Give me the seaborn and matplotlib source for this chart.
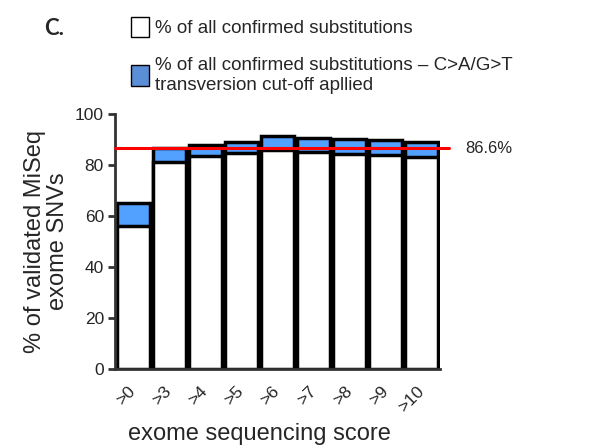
import pandas as pd
import matplotlib
matplotlib.use("Agg")
import matplotlib.pyplot as plt
from matplotlib.patches import Patch
import seaborn as sns

# valeurs
scores = [">0", ">3", ">4", ">5", ">6", ">7", ">8", ">9", ">10"]
all_confirmed = [56, 81.3, 83.5, 84.6, 86.0, 85.2, 84.3, 83.9, 83.0]
with_cutoff = [65.1, 86.7, 87.8, 88.9, 91.5, 90.5, 90.2, 89.8, 89.1]
threshold = 86.6

blue = "#52a0ff"

sns.set_style("ticks")
plt.rcParams['font.family'] = ['Liberation Sans', 'DejaVu Sans']

df = pd.DataFrame({"score": scores, "all": all_confirmed, "cutoff": with_cutoff})

fig = plt.figure(figsize=(6.09, 4.48), dpi=100)
ax = fig.add_axes([0.189, 0.176, 0.722 - 0.189, 0.7455 - 0.176])

sns.barplot(data=df, x="score", y="cutoff", color=blue, edgecolor="black",
            linewidth=2.5, width=0.92, saturation=1, ax=ax)
sns.barplot(data=df, x="score", y="all", color="white", edgecolor="black",
            linewidth=2.5, width=0.92, saturation=1, ax=ax)

ax.axhline(threshold, xmin=0, xmax=1.03, color="red", lw=2.2, clip_on=False, zorder=5)
ax.text(1.08, threshold, "86.6%", transform=ax.get_yaxis_transform(),
        va="center", ha="left", fontsize=12)

ax.set_xlim(-0.5, 8.5)
ax.set_ylim(0, 100)
ax.set_yticks([0, 20, 40, 60, 80, 100])
ax.set_xticks(range(len(scores)))
ax.set_xticklabels(scores, rotation=45, ha="right", va="center", rotation_mode="anchor")
ax.tick_params(axis="x", length=0, pad=14, labelsize=12.5)
ax.tick_params(axis="y", length=5, width=2, color="#333333", labelsize=12.5, pad=3)

sns.despine(ax=ax)
for side in ["left", "bottom"]:
    ax.spines[side].set_linewidth(2)
    ax.spines[side].set_color("#333333")

ax.set_ylabel("% of validated MiSeq\nexome SNVs", fontsize=17, labelpad=4,
              linespacing=1.1)
ax.set_xlabel("exome sequencing score", fontsize=17)
ax.xaxis.set_label_coords(0.446, -0.21)

handles = [Patch(facecolor="white", edgecolor="black", linewidth=1),
           Patch(facecolor="#5a8fd8", edgecolor="black", linewidth=1)]
labels = ["% of all confirmed substitutions",
          "% of all confirmed substitutions \u2013 C>A/G>T\ntransversion cut-off apllied"]
fig.legend(handles, labels, loc="upper left", bbox_to_anchor=(0.2, 0.983),
           frameon=False, fontsize=13.5, handlelength=0.95, handleheight=1.3,
           handletextpad=0.3, labelspacing=1.05, borderpad=0)

fig.text(0.073, 0.937, "C.", fontsize=16, fontweight="bold", family="Lato", va="center")

fig.savefig("out.png", dpi=100)
